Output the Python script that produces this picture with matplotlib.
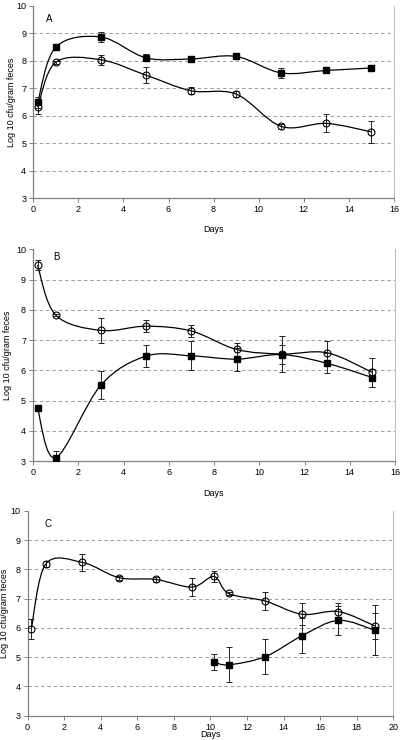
import numpy as np
import matplotlib.pyplot as plt
from matplotlib.path import Path
from matplotlib.patches import PathPatch

plt.rcParams['font.family'] = ['Liberation Sans', 'DejaVu Sans']

# ---------------------------------------------------------------------------
# Data (log10 cfu / gram feces)
# ---------------------------------------------------------------------------
# Panel A
a_days = [0.2, 1, 3, 5, 7, 9, 11, 13, 15]
a_sq = [6.49, 8.50, 8.87, 8.11, 8.07, 8.16, 7.56, 7.65, 7.74]
a_sq_err = [0.20, 0.05, 0.18, 0.13, 0.11, 0.05, 0.19, 0.04, 0.04]
a_ci = [6.31, 7.95, 8.04, 7.48, 6.91, 6.79, 5.61, 5.72, 5.41]
a_ci_err = [0.25, 0.05, 0.19, 0.29, 0.13, 0.11, 0.10, 0.33, 0.40]

# Panel B
b_days = [0.2, 1, 3, 5, 7, 9, 11, 13, 15]
b_ci = [9.48, 7.83, 7.32, 7.46, 7.30, 6.69, 6.54, 6.58, 5.93]
b_ci_err = [0.17, 0.03, 0.40, 0.20, 0.19, 0.20, 0.60, 0.40, 0.48]
b_sq = [4.74, 3.11, 5.51, 6.47, 6.48, 6.37, 6.52, 6.23, 5.76]
b_sq_err = [0.0, 0.22, 0.47, 0.37, 0.48, 0.38, 0.31, 0.33, 0.30]

# Panel C
c_ci_days = [0.2, 1, 3, 5, 7, 9, 10.2, 11, 13, 15, 17, 19]
c_ci = [5.96, 8.19, 8.24, 7.72, 7.66, 7.40, 7.76, 7.18, 6.92, 6.47, 6.56, 6.07]
c_ci_err = [0.35, 0.10, 0.28, 0.07, 0.08, 0.31, 0.20, 0.06, 0.32, 0.38, 0.28, 0.43]
c_sq_days = [10.2, 11, 13, 15, 17, 19]
c_sq = [4.84, 4.74, 5.02, 5.73, 6.26, 5.92]
c_sq_err = [0.27, 0.60, 0.60, 0.60, 0.50, 0.85]


def smooth_path(x, y):
    """Excel-like smoothed line: Catmull-Rom converted to cubic Bezier."""
    pts = np.column_stack([x, y]).astype(float)
    n = len(pts)
    verts = [pts[0]]
    codes = [Path.MOVETO]
    for i in range(n - 1):
        p0 = pts[max(i - 1, 0)]
        p1 = pts[i]
        p2 = pts[i + 1]
        p3 = pts[min(i + 2, n - 1)]
        verts += [p1 + (p2 - p0) / 6, p2 - (p3 - p1) / 6, p2]
        codes += [Path.CURVE4] * 3
    return Path(verts, codes)


def series(ax, x, y, err, marker):
    ax.add_patch(PathPatch(smooth_path(x, y), fill=False, lw=0.9,
                           edgecolor='black', zorder=3))
    ax.errorbar(x, y, yerr=err, fmt='none', ecolor='#222222', elinewidth=0.7,
                capsize=2, capthick=0.7, zorder=4)
    if marker == 's':
        ax.plot(x, y, 's', ms=4.2, color='black', zorder=5)
    else:
        ax.plot(x, y, 'o', ms=5, mfc='none', mec='black', mew=0.8, zorder=5)


def style(ax, xmax, letter, lx, ly, xpad, ypad):
    ax.set_xlim(0, xmax)
    ax.set_ylim(3, 10)
    ax.set_xticks(np.arange(0, xmax + 1, 2))
    ax.set_yticks(np.arange(3, 11, 1))
    for g in range(4, 10):
        ax.axhline(g, color='#9a9a9a', lw=0.7, ls=(0, (3.5, 3)), zorder=1)
    ax.spines['top'].set_visible(False)
    for s in ['left', 'bottom']:
        ax.spines[s].set_color('#808080')
        ax.spines[s].set_linewidth(0.9)
    ax.spines['right'].set_color('#b0b0b0')
    ax.spines['right'].set_linewidth(0.6)
    ax.tick_params(labelsize=6.5, length=3, width=0.7, color='#808080', pad=2)
    ax.set_xlabel('Days', fontsize=6.5, labelpad=xpad)
    ax.set_ylabel('Log 10 cfu/gram feces', fontsize=6.5, labelpad=ypad)
    ax.text(lx, ly, letter, transform=ax.transAxes, fontsize=7, va='center')


fig = plt.figure(figsize=(4, 7.4), dpi=100)

axA = fig.add_axes([0.083, 0.7324, 0.902, 0.2595])
series(axA, a_days, a_sq, a_sq_err, 's')
series(axA, a_days, a_ci, a_ci_err, 'o')
style(axA, 16, 'A', 0.035, 0.93, 8, 0)

axB = fig.add_axes([0.0825, 0.377, 0.905, 0.286])
series(axB, b_days, b_ci, b_ci_err, 'o')
series(axB, b_days, b_sq, b_sq_err, 's')
style(axB, 16, 'B', 0.055, 0.965, 9, 3)

axC = fig.add_axes([0.069, 0.0328, 0.914, 0.2767])
series(axC, c_ci_days, c_ci, c_ci_err, 'o')
series(axC, c_sq_days, c_sq, c_sq_err, 's')
style(axC, 20, 'C', 0.045, 0.935, -1, 1)

fig.savefig('out.png', dpi=100)
